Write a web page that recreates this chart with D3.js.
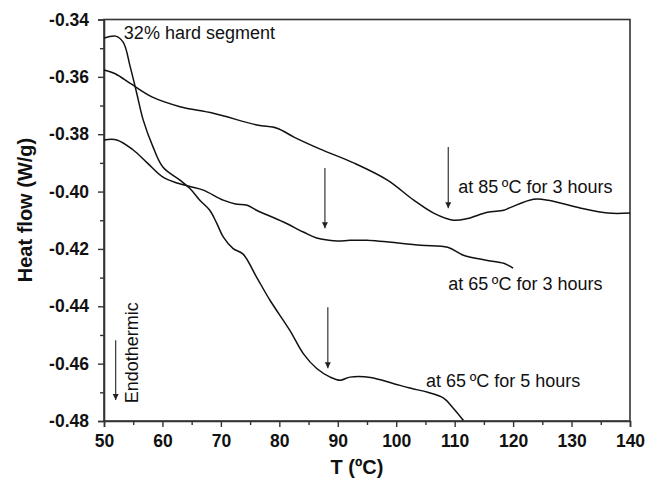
<!DOCTYPE html>
<html>
<head>
<meta charset="utf-8">
<script src="https://cdn.jsdelivr.net/npm/d3@7"></script>
<style>
  body{margin:0;background:#fff;}
  svg{display:block;font-family:Arial,"Liberation Sans",sans-serif;}
</style>
</head>
<body>
<svg id="chart" width="645" height="485"></svg>
<script>
// DSC curves
const curve85c3h = [[50,-0.3576],[52,-0.3590],[54.5,-0.3623],[58.2,-0.3670],[63,-0.3704],[68.7,-0.3727],[76.2,-0.3768],[79.6,-0.3779],[82.5,-0.3810],[87,-0.3852],[92.7,-0.3900],[98.5,-0.3960],[103,-0.4030],[106.4,-0.4075],[109.8,-0.4100],[112.2,-0.4094],[115.6,-0.4072],[118.4,-0.4065],[119.6,-0.4055],[123.5,-0.4027],[126,-0.4030],[131.6,-0.4058],[136.2,-0.4075],[140,-0.4075]];
const curve65c3h = [[50,-0.3820],[52.2,-0.3820],[55,-0.3855],[57.4,-0.3900],[60.1,-0.3950],[62.5,-0.3970],[64.7,-0.3982],[67,-0.3995],[70.4,-0.4030],[72.5,-0.4043],[74.5,-0.4048],[76.1,-0.4065],[80.7,-0.4106],[84.1,-0.4141],[86.4,-0.4162],[89.8,-0.4172],[92.1,-0.4170],[95,-0.4170],[104.2,-0.4187],[108.8,-0.4194],[111.5,-0.4222],[115.6,-0.4240],[118.4,-0.4250],[120,-0.4267]];
const curve65c5h = [[50,-0.3465],[52,-0.3458],[53.3,-0.3480],[54.5,-0.3566],[55.6,-0.3657],[56.7,-0.3750],[58.4,-0.3845],[60.1,-0.3915],[63,-0.3960],[64.7,-0.3989],[66.4,-0.4030],[68.1,-0.4065],[69.3,-0.4111],[70.4,-0.4158],[72.1,-0.4199],[73.8,-0.4218],[76.1,-0.4298],[78.4,-0.4379],[81.8,-0.4484],[84.1,-0.4565],[86.4,-0.4617],[88.7,-0.4647],[90.4,-0.4658],[92.1,-0.4647],[95.6,-0.4648],[99.6,-0.4670],[102.5,-0.4686],[105.4,-0.4700],[108.1,-0.4720],[109.8,-0.4756],[111.5,-0.4798]];

const xTicks = [50,60,70,80,90,100,110,120,130,140];
const yTicks = [-0.34,-0.36,-0.38,-0.40,-0.42,-0.44,-0.46,-0.48];

// arrows: [x, yFrom, yTo]
const arrows = [[87.8,-0.3918,-0.4128],[108.9,-0.3845,-0.4058],[88.3,-0.4403,-0.4616]];
const labels = [
  {text:"32% hard segment", x:53.4, y:-0.3468},
  {text:"at 85\u2009\u00baC for 3 hours", x:110.6, y:-0.4004},
  {text:"at 65\u2009\u00baC for 3 hours", x:108.9, y:-0.4344},
  {text:"at 65\u2009\u00baC for 5 hours", x:105.1, y:-0.4681}
];

const svg = d3.select('#chart');
const x = d3.scaleLinear().domain([50,140]).range([104,630]);
const y = d3.scaleLinear().domain([-0.34,-0.48]).range([19.5,421]);
const ink = '#222';

svg.append('defs').append('marker')
  .attr('id','ah').attr('viewBox','0 0 10 10').attr('refX',10).attr('refY',5)
  .attr('markerWidth',6).attr('markerHeight',9).attr('markerUnits','userSpaceOnUse').attr('orient','auto')
  .append('path').attr('d','M0,0L10,5L0,10z').attr('fill',ink);

// frame
svg.append('rect').attr('x',x(50)).attr('y',y(-0.34))
  .attr('width',x(140)-x(50)).attr('height',y(-0.48)-y(-0.34))
  .attr('fill','none').attr('stroke','#333').attr('stroke-width',1.6);

const fmtY = d => d3.format('.2f')(d).replace('\u2212','-');
svg.append('g').attr('transform',`translate(0,${y(-0.48)})`)
  .call(d3.axisBottom(x).tickValues(xTicks).tickFormat(d3.format('d')).tickSize(6).tickPadding(8));
svg.append('g').attr('transform',`translate(0,${y(-0.48)})`)
  .call(d3.axisBottom(x).tickValues(d3.range(55,140,10)).tickFormat('').tickSize(4))
  .call(g=>g.select('.domain').remove());
svg.append('g').attr('transform',`translate(${x(50)},0)`)
  .call(d3.axisLeft(y).tickValues(yTicks).tickFormat(fmtY).tickSize(6).tickPadding(9));
svg.append('g').attr('transform',`translate(${x(50)},0)`)
  .call(d3.axisLeft(y).tickValues(d3.range(-0.35,-0.475,-0.02)).tickFormat('').tickSize(4))
  .call(g=>g.select('.domain').remove());

svg.selectAll('.domain').attr('stroke','#333').attr('stroke-width',1.6);
svg.selectAll('.tick line').attr('stroke','#333').attr('stroke-width',1.4);
svg.selectAll('.tick text').attr('fill','#111').style('font-size','17.5px').style('font-weight','bold')
  .style('font-family','Arial,"Liberation Sans",sans-serif');

const line = d3.line().x(d=>x(d[0])).y(d=>y(d[1])).curve(d3.curveCatmullRom.alpha(0.5));
[curve85c3h,curve65c3h,curve65c5h].forEach(c=>{
  svg.append('path').attr('d',line(c)).attr('fill','none').attr('stroke','#111').attr('stroke-width',1.5);
});

arrows.forEach(a=>{
  svg.append('line').attr('x1',x(a[0])).attr('x2',x(a[0])).attr('y1',y(a[1])).attr('y2',y(a[2]))
    .attr('stroke',ink).attr('stroke-width',1.1).attr('marker-end','url(#ah)');
});

svg.selectAll('.lbl').data(labels).enter().append('text').attr('class','lbl')
  .attr('x',d=>x(d.x)).attr('y',d=>y(d.y)).text(d=>d.text)
  .attr('fill','#111').style('font-size','18px');

// endothermic note
svg.append('line').attr('x1',x(52)).attr('x2',x(52)).attr('y1',y(-0.4518)).attr('y2',y(-0.4727))
  .attr('stroke',ink).attr('stroke-width',1.1).attr('marker-end','url(#ah)');
svg.append('text').attr('transform',`translate(${x(55.8)},${y(-0.4738)}) rotate(-90)`)
  .text('Endothermic').attr('fill','#111').style('font-size','18px');

// axis titles
svg.append('text').attr('x',357).attr('y',474).attr('text-anchor','middle')
  .text('T (\u00baC)').attr('fill','#111').style('font-size','20px').style('font-weight','bold');
svg.append('text').attr('transform',`translate(32,210) rotate(-90)`)
  .attr('text-anchor','middle').text('Heat flow (W/g)')
  .attr('fill','#111').style('font-size','20px').style('font-weight','bold');
</script>
</body>
</html>
